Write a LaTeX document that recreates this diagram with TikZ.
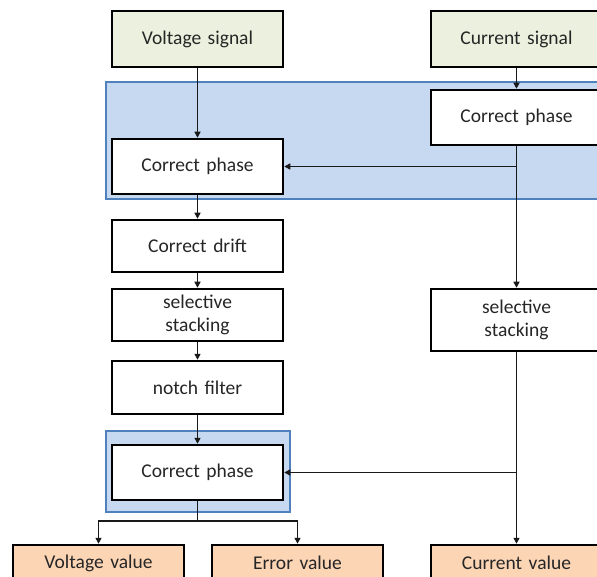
\documentclass[tikz,border=0pt]{standalone}
\usepackage{fontspec}
\setmainfont{Carlito}
\usetikzlibrary{arrows.meta}
\definecolor{sigfill}{HTML}{EBF1DE}
\definecolor{valfill}{HTML}{FCD5B5}
\definecolor{grpfill}{HTML}{C6D9F1}
\definecolor{grpline}{HTML}{4F81BD}
\definecolor{ink}{HTML}{262626}
\begin{document}
\begin{tikzpicture}[x=1pt,y=-1pt,
  box/.style={draw=black, line width=2.5pt, fill=white, minimum width=171pt,
    text width=160pt, align=center, inner sep=0pt, text=ink,
    font=\fontsize{19.5}{23}\selectfont},
  sigbox/.style={box, fill=sigfill},
  valbox/.style={box, fill=valfill},
  group/.style={draw=grpline, fill=grpfill, line width=1.8pt},
  link/.style={line width=1.6pt, draw=black!90},
  arr/.style={link, -{Triangle[length=6pt,width=6pt]}}]
\useasboundingbox (0,0) rectangle (597,577);
\clip (0,0) rectangle (597,577);

% shaded processing groups
\draw[group] (106,82) rectangle (640,199);
\draw[group] (106,431) rectangle (290,512);

% voltage column
\node[sigbox, minimum height=56pt] (vsig) at (197.5,39) {Voltage signal};
\node[box, minimum height=55pt] (cp2) at (197.5,166.5) {Correct phase};
\node[box, minimum height=52pt] (drift) at (197.5,246) {Correct drift};
\node[box, minimum height=52pt] (sst1) at (197.5,315) {selective\\stacking};
\node[box, minimum height=53pt] (notch) at (197.5,387.5) {notch filter};
\node[box, minimum height=55pt] (cp3) at (197.5,472.5) {Correct phase};

% current column
\node[sigbox, minimum height=56pt] (csig) at (516.5,39) {Current signal};
\node[box, minimum height=55pt] (cp1) at (516.5,117.5) {Correct phase};
\node[box, minimum height=62pt] (sst2) at (516.5,320) {selective\\stacking};

% results (running past the lower edge)
\node[valbox, minimum height=36pt] (vval) at (98.5,563) {Voltage value};
\node[valbox, minimum height=36pt] (eval) at (297.5,563) {Error value};
\node[valbox, minimum height=36pt] (cval) at (516.5,563) {Current value};

% connectors
\draw[arr] (vsig) -- (cp2);
\draw[arr] (cp2) -- (drift);
\draw[arr] (drift) -- (sst1);
\draw[arr] (sst1) -- (notch);
\draw[arr] (notch) -- (cp3);

\draw[arr] (csig) -- (cp1);
\draw[arr] (cp1) -- (sst2);
\draw[arr] (sst2) -- (cval);

\coordinate (j1) at (cp1.south |- cp2.east);
\coordinate (j2) at (sst2.south |- cp3.east);
\draw[arr] (j1) -- (cp2.east);
\draw[arr] (j2) -- (cp3.east);

\coordinate (split) at (197.5,521);
\draw[link] (cp3.south) -- (split);
\draw[arr] (split) -| (vval.north);
\draw[arr] (split) -| (eval.north);
\end{tikzpicture}
\end{document}
